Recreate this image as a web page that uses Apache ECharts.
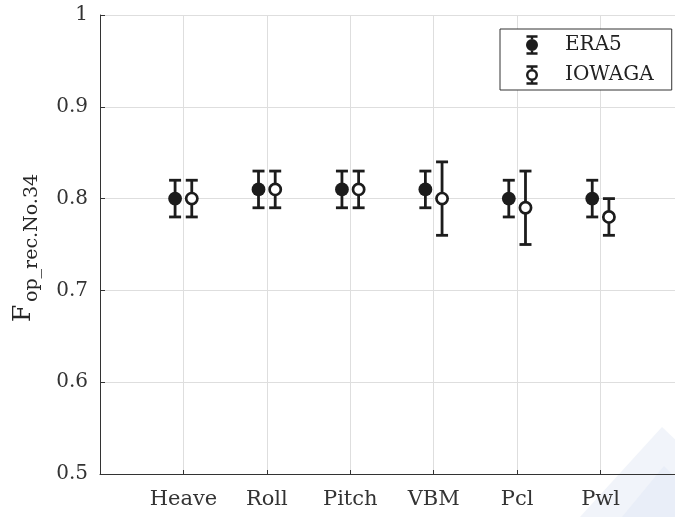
<!DOCTYPE html>
<html>
<head>
<meta charset="utf-8">
<script src="https://cdn.jsdelivr.net/npm/echarts@6/dist/echarts.min.js"></script>
<style>
  html, body { margin: 0; padding: 0; background: #fff; overflow: hidden; }
  /* the plotting frame runs a few pixels past the right edge of the page */
  #chart { width: 684px; height: 517px; }
</style>
</head>
<body>
<div id="chart"></div>
<script>
// Response categories
const categories = ['Heave', 'Roll', 'Pitch', 'VBM', 'Pcl', 'Pwl'];

// ERA5: central value and lower / upper bounds
const era5Mean = [0.80, 0.81, 0.81, 0.81, 0.80, 0.80];
const era5Low  = [0.78, 0.79, 0.79, 0.79, 0.78, 0.78];
const era5High = [0.82, 0.83, 0.83, 0.83, 0.82, 0.82];

// IOWAGA: central value and lower / upper bounds
const iowagaMean = [0.80, 0.81, 0.81, 0.80, 0.79, 0.78];
const iowagaLow  = [0.78, 0.79, 0.79, 0.76, 0.75, 0.76];
const iowagaHigh = [0.82, 0.83, 0.83, 0.84, 0.83, 0.80];

// Y axis ticks
const yTicks = [0.5, 0.6, 0.7, 0.8, 0.9, 1];

const FONT = 'DejaVu Serif';
const INK = '#1c1c1c';

function buildData(mean, low, high, shift) {
  return categories.map((c, i) => [i + 1 + shift, mean[i], low[i], high[i]]);
}

function errorBarRenderer(open) {
  return function (params, api) {
    const x = api.value(0);
    const pMid = api.coord([x, api.value(1)]);
    const pLow = api.coord([x, api.value(2)]);
    const pHigh = api.coord([x, api.value(3)]);
    const cap = 6;
    const lw = 2.8;
    const stroke = { stroke: INK, lineWidth: lw };
    return {
      type: 'group',
      children: [
        { type: 'line', shape: { x1: pMid[0], y1: pHigh[1], x2: pMid[0], y2: pLow[1] }, style: stroke },
        { type: 'line', shape: { x1: pMid[0] - cap, y1: pHigh[1], x2: pMid[0] + cap, y2: pHigh[1] }, style: stroke },
        { type: 'line', shape: { x1: pMid[0] - cap, y1: pLow[1], x2: pMid[0] + cap, y2: pLow[1] }, style: stroke },
        open
          ? { type: 'circle', shape: { cx: pMid[0], cy: pMid[1], r: 5.6 }, style: { fill: '#fff', stroke: INK, lineWidth: 2.7 } }
          : { type: 'circle', shape: { cx: pMid[0], cy: pMid[1], r: 6.9 }, style: { fill: INK } }
      ]
    };
  };
}

// Legend glyphs: capped whisker with a filled / hollow dot
const capsAndStems =
  'M0 0 H12 V2.7 H0 Z M0 18.3 H12 V21 H0 Z ' +
  'M4.7 0 H7.3 V4 H4.7 Z M4.7 17 H7.3 V21 H4.7 Z ';
const outerDot = 'M6 4 A6.5 6.5 0 1 1 6 17 A6.5 6.5 0 1 1 6 4 Z ';
const innerHole = 'M6 6.7 A3.8 3.8 0 1 0 6 14.3 A3.8 3.8 0 1 0 6 6.7 Z';
const iconFilled = 'path://' + capsAndStems + outerDot;
const iconOpen = 'path://' + capsAndStems + outerDot + innerHole;

const chart = echarts.init(document.getElementById('chart'), null, { renderer: 'canvas' });

chart.setOption({
  animation: false,
  backgroundColor: '#fff',
  textStyle: { fontFamily: FONT },
  grid: { left: 100, top: 15, bottom: 43, right: 0, containLabel: false, outerBoundsMode: 'none' },
  xAxis: {
    type: 'value',
    min: 0,
    max: 7,
    interval: 1,
    axisLine: { show: true, lineStyle: { color: '#333', width: 1 } },
    axisTick: { show: true, inside: true, length: 4, lineStyle: { color: '#333' } },
    axisLabel: {
      fontFamily: FONT, fontSize: 21, color: '#333', margin: 15,
      formatter: v => (v >= 1 && v <= categories.length && Number.isInteger(v)) ? categories[v - 1] : ''
    },
    splitLine: { show: true, lineStyle: { color: '#dedede', width: 1 } }
  },
  yAxis: {
    type: 'value',
    min: yTicks[0],
    max: yTicks[yTicks.length - 1],
    interval: 0.1,
    axisLine: { show: true, lineStyle: { color: '#333', width: 1 } },
    axisTick: { show: true, inside: true, length: 5, lineStyle: { color: '#333' } },
    axisLabel: {
      fontFamily: FONT, fontSize: 20, color: '#333', margin: 12,
      formatter: v => (Math.abs(v - 1) < 1e-9 ? '1' : v.toFixed(1))
    },
    splitLine: { show: true, lineStyle: { color: '#dedede', width: 1 } }
  },
  legend: {
    orient: 'vertical',
    left: 500,
    top: 29,
    padding: [6, 18, 5, 26],
    itemGap: 10,
    itemWidth: 12,
    itemHeight: 21,
    borderColor: '#333',
    borderWidth: 1,
    backgroundColor: '#fff',
    textStyle: { fontFamily: FONT, fontSize: 20, color: '#222', padding: [0, 0, 0, 22] },
    data: [
      { name: 'ERA5', icon: iconFilled },
      { name: 'IOWAGA', icon: iconOpen }
    ]
  },
  graphic: [
    {
      type: 'polygon', z: -5, silent: true,
      shape: { points: [[580, 517], [662, 427], [684, 448], [684, 517]] },
      style: { fill: '#f1f4fa' }
    },
    {
      type: 'polygon', z: -4, silent: true,
      shape: { points: [[622, 517], [664, 466], [684, 486], [684, 517]] },
      style: { fill: '#e9eef8' }
    },
    {
      type: 'text', silent: true, rotation: Math.PI / 2,
      x: 23, y: 322,
      style: { text: 'F', font: '25px "DejaVu Serif"', fill: '#262626', align: 'left', verticalAlign: 'middle' }
    },
    {
      type: 'text', silent: true, rotation: Math.PI / 2,
      x: 32, y: 302,
      style: { text: 'op_rec.No.34', font: '19px "DejaVu Serif"', fill: '#262626', align: 'left', verticalAlign: 'middle' }
    }
  ],
  series: [
    {
      name: 'ERA5',
      type: 'custom',
      itemStyle: { color: INK },
      encode: { x: 0, y: [1, 2, 3] },
      renderItem: errorBarRenderer(false),
      data: buildData(era5Mean, era5Low, era5High, -0.1),
      z: 3
    },
    {
      name: 'IOWAGA',
      type: 'custom',
      itemStyle: { color: INK },
      encode: { x: 0, y: [1, 2, 3] },
      renderItem: errorBarRenderer(true),
      data: buildData(iowagaMean, iowagaLow, iowagaHigh, 0.1),
      z: 3
    }
  ]
});
</script>
</body>
</html>
